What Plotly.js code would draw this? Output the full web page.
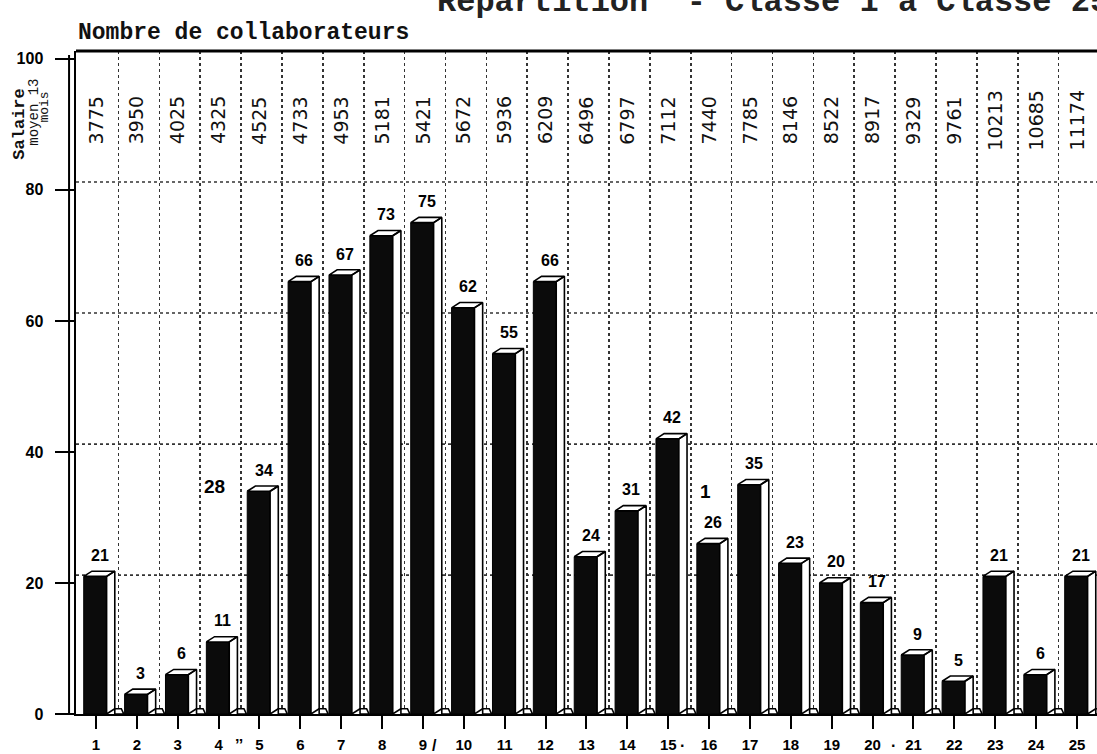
<!DOCTYPE html>
<html>
<head>
<meta charset="utf-8">
<script src="https://cdn.plot.ly/plotly-3.0.1.min.js"></script>
<style>html,body{margin:0;padding:0;background:#fff;}#chart{width:1097px;height:754px;}</style>
</head>
<body>
<div id="chart"></div>
<script>
// ---- data ----
const categories = ['1','2','3','4','5','6','7','8','9','10','11','12','13','14','15','16','17','18','19','20','21','22','23','24','25'];
const counts = [21, 3, 6, 11, 34, 66, 67, 73, 75, 62, 55, 66, 24, 31, 42, 26, 35, 23, 20, 17, 9, 5, 21, 6, 21];
const salaries = ['3775','3950','4025','4325','4525','4733','4953','5181','5421','5672','5936','6209','6496','6797','7112','7440','7785','8146','8522','8917','9329','9761','10213','10685','11174'];
const yTicks = [0, 20, 40, 60, 80, 100];
const handNotes = ['28', '1'];
const handNoteX = [3.91, 15.92];
const handNoteY = [34.8, 34.0];
const scanMarks = ['\u2019\u2019', '/', '\u00b7', '\u00b7'];
const scanMarkX = [4.5, 9.28, 15.35, 20.52];
const titleText = 'Répartition  - Classe 1 à Classe 25';
const yTitleText = 'Nombre de collaborateurs';
const salaryTitleLines = ['Salaire', 'moyen 13', 'mois'];

// ---- geometry / styles ----
const FRONT_L = -0.30, FRONT_R = 0.26, DX = 0.20, DY = 0.8, WALL_DY = 1.2;
const xs = categories.map((c, i) => i + 1);
const boundaries = xs.slice(0, -1).map(x => x + 0.55);

const fx = [], fy = [];
xs.forEach((x, i) => {
  const v = counts[i];
  const l = x + FRONT_L, r = x + FRONT_R;
  // top face
  fx.push(l, r, r + DX, l + DX, l, null);
  fy.push(v, v, v + DY, v + DY, v, null);
  // side face
  fx.push(r, r + DX, r + DX, r, r, null);
  fy.push(0, DY, v + DY, v, 0, null);
  // floor shadow
  fx.push(r + DX, r + DX + 0.22, r + DX + 0.16, r + DX, r + DX, null);
  fy.push(0, 0, DY, DY, 0, null);
});

const boldSans = 'Liberation Sans, Arial, sans-serif';
const mono = 'Liberation Mono, Courier New, monospace';

const traces = [
  {
    type: 'bar', x: xs, y: counts, width: 0.56, offset: FRONT_L,
    marker: {color: '#0b0b0b', line: {color: '#000', width: 1}},
    hoverinfo: 'skip', showlegend: false
  },
  {
    type: 'scatter', mode: 'lines', x: fx, y: fy, fill: 'toself', fillcolor: '#ffffff',
    line: {color: '#000', width: 1.6}, connectgaps: false, hoverinfo: 'skip', showlegend: false
  }
];

const annotations = [];
xs.forEach((x, i) => {
  annotations.push({
    x: x + 0.1, y: counts[i], xref: 'x', yref: 'y', text: '<b>' + counts[i] + '</b>',
    showarrow: false, yshift: 21, yanchor: 'middle',
    font: {family: boldSans, size: 16, color: '#000'}
  });
  annotations.push({
    x: x, y: 90.6, xref: 'x', yref: 'y', text: salaries[i], textangle: -90,
    showarrow: false, xanchor: 'center', yanchor: 'middle',
    font: {family: 'DejaVu Sans, sans-serif', size: 19, color: '#111'}
  });
});
handNotes.forEach((t, i) => {
  annotations.push({
    x: handNoteX[i], y: handNoteY[i], xref: 'x', yref: 'y', text: '<b>' + t + '</b>',
    showarrow: false, font: {family: boldSans, size: 19, color: '#000'}
  });
});
scanMarks.forEach((t, i) => {
  annotations.push({
    x: scanMarkX[i], y: -0.047, xref: 'x', yref: 'paper', text: '<b>' + t + '</b>',
    showarrow: false, yanchor: 'middle', font: {family: boldSans, size: 16, color: '#000'}
  });
});
annotations.push({
  xref: 'paper', yref: 'paper', x: 0.3516, y: 1.042, xanchor: 'left', yanchor: 'bottom',
  text: '<b>' + titleText + '</b>', showarrow: false,
  font: {family: mono, size: 32, color: '#222'}
});
annotations.push({
  xref: 'paper', yref: 'paper', x: 0.0, y: 1.027, xanchor: 'left', yanchor: 'middle',
  text: '<b>' + yTitleText + '</b>', showarrow: false,
  font: {family: mono, size: 23, color: '#111'}
});
// rotated "Salaire moyen 13 mois" header, one annotation per line
const salLineX = [-0.0548, -0.0411, -0.0304];
const salLineY = [0.944, 0.959, 0.941];
const salLineSize = [17, 14, 13];
const salLineBold = [true, false, false];
salaryTitleLines.forEach((t, i) => {
  annotations.push({
    xref: 'paper', yref: 'paper', x: salLineX[i], y: salLineY[i], xanchor: 'center', yanchor: 'top',
    textangle: -90, showarrow: false, borderpad: 0,
    text: salLineBold[i] ? '<b>' + t + '</b>' : t,
    font: {family: mono, size: salLineSize[i], color: '#111'}
  });
});

const shapes = [];
yTicks.filter(v => v > 0 && v < 100).forEach(v => {
  shapes.push({type: 'line', xref: 'paper', yref: 'y', x0: 0, x1: 1, y0: v + WALL_DY, y1: v + WALL_DY,
    line: {color: '#333', width: 1.6, dash: 'dot'}, layer: 'below'});
});
shapes.push({type: 'line', xref: 'paper', yref: 'paper', x0: 0, x1: 1, y0: 1, y1: 1, line: {color: '#000', width: 3}});
shapes.push({type: 'line', xref: 'paper', yref: 'y', x0: -0.0068, x1: -0.0068, y0: 0, y1: 100.6, line: {color: '#000', width: 2}});

const layout = {
  width: 1097, height: 754,
  margin: {l: 76, r: 0, t: 51, b: 40},
  paper_bgcolor: '#fff', plot_bgcolor: '#fff',
  showlegend: false,
  bargap: 0,
  xaxis: {
    type: 'linear', range: [0.511, 25.49], tickmode: 'array', tickvals: xs, ticktext: categories,
    ticks: 'outside', ticklen: 13, tickwidth: 2, tickcolor: '#000',
    showline: true, linewidth: 2, linecolor: '#000', zeroline: false, showgrid: false,
    ticklabelstandoff: 3,
    tickfont: {family: boldSans, size: 15, color: '#000', weight: 'bold'},
    minor: {tickmode: 'array', tickvals: boundaries, showgrid: true, griddash: 'dot', gridcolor: '#333', gridwidth: 1.6, ticks: ''}
  },
  yaxis: {
    range: [0, 101.2], tickmode: 'array', tickvals: yTicks,
    ticks: 'outside', ticklen: 19, tickwidth: 2, tickcolor: '#000',
    showline: true, linewidth: 2.5, linecolor: '#000', zeroline: false, showgrid: false,
    ticklabelstandoff: 8,
    tickfont: {family: boldSans, size: 16, color: '#000', weight: 'bold'}
  },
  annotations: annotations,
  shapes: shapes
};

Plotly.newPlot('chart', traces, layout, {displayModeBar: false, staticPlot: true});
</script>
</body>
</html>
